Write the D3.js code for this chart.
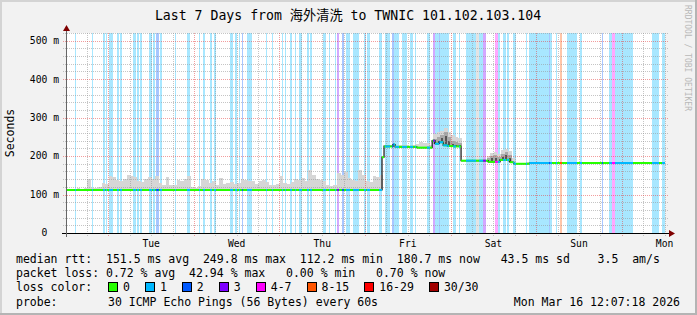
<!DOCTYPE html>
<html>
<head>
<meta charset="utf-8">
<script src="https://cdn.jsdelivr.net/npm/d3@7"></script>
<style>
body{margin:0;background:#f2f2f2}
svg{display:block}
text{font-family:"DejaVu Sans Mono","Noto Sans CJK SC",monospace;fill:#000;white-space:pre}
</style>
</head>
<body>
<div id="chart"></div>
<script>
// window of the graph (UTC)
var tStart = Date.UTC(2026,2,9,12,7,18),
    tEnd   = Date.UTC(2026,2,16,12,7,18),
    HR = 3600000;

// median rtt, piecewise: [from hour, to hour, ms]
var medianSeg = [
  [0,88.63,112],[88.63,89.2,197],[89.2,91.7,225],[91.7,92.3,230],[92.3,98.4,224],
  [98.4,102.7,222],[102.7,103.5,240],[103.5,104.6,232],[104.6,105.8,236],[105.8,107,228],
  [107,108.6,226],[108.6,110.8,225],[110.8,118.4,188],[118.4,121.7,185],[121.7,124.5,190],
  [124.5,125.6,184],[125.6,130,180],[130,168,182]
];

// loss background bands: [from hour, to hour, loss class] (9 = unknown)
var lossBands = [
  [2.52,2.80,1],[7.29,7.57,1],[10.38,10.94,1],[11.22,11.50,1],[12.06,13.18,1],[14.30,14.86,1],
  [15.15,15.71,1],[18.79,19.63,1],[19.91,20.47,1],[20.75,21.32,1],[23.28,24.12,1],[24.40,24.96,1],
  [25.24,26.08,2],[26.36,26.93,1],[30.57,30.85,1],[33.94,34.78,1],[37.30,37.58,1],[38.42,38.99,1],
  [40.39,40.95,1],[41.51,42.07,1],[45.99,46.84,1],[47.40,47.96,1],[48.52,48.80,1],[49.36,49.64,2],
  [50.77,52.17,1],[56.09,56.37,1],[57.77,58.05,1],[60.58,60.86,1],[61.42,61.70,1],[62.83,63.39,1],
  [64.23,64.51,1],[65.35,66.19,1],[67.59,68.15,1],[68.43,69.00,1],[72.08,72.92,1],[73.76,74.04,1],
  [75.45,75.73,1],[76.01,76.57,3],[77.41,77.97,2],[78.53,79.65,1],[80.49,82.18,1],[83.58,84.14,1],
  [84.42,85.26,1],[87.79,88.63,1],[89.47,90.87,1],[91.43,91.99,2],[91.99,93.40,1],[94.24,95.64,1],
  [96.48,97.32,1],[97.88,98.16,1],[101.25,102.09,1],[102.93,103.49,3],[103.49,104.62,1],[104.62,104.90,2],
  [104.90,107.42,1],[108.54,109.38,1],[110.22,110.51,1],[112.19,115.00,1],[115.00,115.84,9],[115.84,116.96,1],
  [116.96,117.80,3],[120.32,121.16,4],[121.16,121.72,1],[122.57,123.41,1],[123.69,124.25,1],[125.37,126.21,1],
  [129.02,129.30,1],[129.86,135.47,1],[135.47,135.75,2],[135.75,136.31,1],[137.43,137.71,1],[138.55,139.11,5],
  [140.52,143.32,1],[144.16,144.72,1],[150.33,150.61,2],[152.29,153.13,1],[153.13,153.97,4],[153.97,159.02,1],
  [164.35,166.31,1],[167.15,168,1]
];

// outer edge of the smoke, one value per hour (ms)
var smokeTop = [
  114,115,114,116,115,118,140,118,117,120,
  130,128,147,145,138,135,140,151,149,145,
  134,132,140,146,141,147,130,125,145,126,
  124,138,134,140,147,120,118,122,140,138,
  130,135,125,143,128,130,132,128,130,140,
  138,136,134,128,136,138,133,125,124,127,
  147,130,128,132,140,138,142,136,164,150,
  140,138,136,125,122,126,155,150,158,142,
  138,136,164,150,134,132,148,145,150,
  228,230,229,227,230,228,229,227,230,232,236,235,234,230,
  258,262,266,272,262,255,250,246,
  191,191,190,191,192,190,191,
  200,208,210,206,216,218,214,196,
  183,182,183,184,184,184,183,184,184,185,184,184,184,184,185,184,184,184,184,184,184,
  184,184,185,184,184,184,184,184,184,184,184,184,184,184,184,184,184,184,184,184,184
];

// denser smoke in the noisy hours: [hour, mid ms, core ms]
var smokeDark = [
  [103,245,236],[104,250,240],[105,255,246],[106,262,252],[107,250,240],[108,240,232],
  [109,236,230],[110,234,228],[118,194,null],[119,200,194],[120,202,196],[121,198,null],
  [122,206,198],[123,210,202],[124,204,196]
];

var yTicks = [0,100,200,300,400,500];
var dayLabels = ["Tue","Wed","Thu","Fri","Sat","Sun","Mon"];

var lossColors = ["#26ff00","#00b8ff","#0059ff","#7e00ff","#ff00ff","#ff5500","#ff0000","#a10000"];
var lossNames  = ["0","1","2","3","4-7","8-15","16-29","30/30"];

var statRtt  = "median rtt:  151.5 ms avg  249.8 ms max  112.2 ms min  180.7 ms now   43.5 ms sd    3.5  am/s";
var statLoss = "packet loss: 0.72 % avg  42.94 % max   0.00 % min   0.70 % now";
var probeTxt = "30 ICMP Echo Pings (56 Bytes) every 60s";
var stampTxt = "Mon Mar 16 12:07:18 2026";

var W = 697, H = 315,
    x0 = 66, x1 = 665, yTop = 33, yBot = 233;

var svg = d3.select("#chart").append("svg").attr("width",W).attr("height",H);

svg.append("rect").attr("width",W).attr("height",H).attr("fill","#f2f2f2");
// shaded frame
svg.append("rect").attr("x",0).attr("y",0).attr("width",W).attr("height",2).attr("fill","#d4d4d4");
svg.append("rect").attr("x",0).attr("y",0).attr("width",2).attr("height",H).attr("fill","#d4d4d4");
svg.append("rect").attr("x",W-2).attr("y",0).attr("width",2).attr("height",H).attr("fill","#b4b4b4");
svg.append("rect").attr("x",0).attr("y",H-2).attr("width",W).attr("height",2).attr("fill","#b4b4b4");

var x = d3.scaleUtc().domain([tStart,tEnd]).range([x0,x1]);
var y = d3.scaleLinear().domain([0,520]).range([yBot,yTop]);
function hx(h){ return x(new Date(tStart + h*HR)); }
function medAt(h){
  for (var i=0;i<medianSeg.length;i++) if (h>=medianSeg[i][0] && h<medianSeg[i][1]) return medianSeg[i][2];
  return medianSeg[medianSeg.length-1][2];
}

var plot = svg.append("g");
plot.append("rect").attr("x",x0).attr("y",yTop).attr("width",x1-x0).attr("height",yBot-yTop).attr("fill","#fff");

// loss bands
plot.append("g").attr("shape-rendering","crispEdges").selectAll("rect")
  .data(lossBands).enter().append("rect")
  .attr("x",function(d){return hx(d[0]);})
  .attr("width",function(d){return hx(d[1])-hx(d[0]);})
  .attr("y",yTop).attr("height",yBot-yTop)
  .attr("fill",function(d){return d[2]==9 ? "#c8c8c8" : lossColors[d[2]];})
  .attr("fill-opacity",function(d){return d[2]==9 ? 0.5 : 0.34;});

// smoke
var smoke = plot.append("g").attr("shape-rendering","crispEdges");
smoke.selectAll("rect.outer").data(smokeTop).enter().append("rect").attr("class","outer")
  .attr("x",function(d,i){return hx(i);})
  .attr("width",function(d,i){return hx(i+1)-hx(i);})
  .attr("y",function(d){return y(d);})
  .attr("height",function(d,i){return Math.max(0,y(medAt(i+0.5))-y(d));})
  .attr("fill","#d6d6d6");
smoke.selectAll("rect.mid").data(smokeDark).enter().append("rect").attr("class","mid")
  .attr("x",function(d){return hx(d[0]);})
  .attr("width",function(d){return hx(d[0]+1)-hx(d[0]);})
  .attr("y",function(d){return y(d[1]);})
  .attr("height",function(d){return Math.max(0,y(medAt(d[0]+0.5))-y(d[1]));})
  .attr("fill","#a8a8a8");
smoke.selectAll("rect.core").data(smokeDark.filter(function(d){return d[2]!=null;})).enter().append("rect").attr("class","core")
  .attr("x",function(d){return hx(d[0]+0.2);})
  .attr("width",function(d){return hx(d[0]+0.8)-hx(d[0]+0.2);})
  .attr("y",function(d){return y(d[2]);})
  .attr("height",function(d){return Math.max(0,y(medAt(d[0]+0.5))-y(d[2]));})
  .attr("fill","#555");

// grid
var grid = svg.append("g").attr("stroke-dasharray","1,1").attr("shape-rendering","crispEdges");
var minorY = d3.range(20,521,20).filter(function(v){return v%100!=0;});
grid.selectAll("line.hy").data(minorY).enter().append("line")
  .attr("x1",x0-3).attr("x2",x1+3)
  .attr("y1",function(d){return Math.round(y(d))+0.5;}).attr("y2",function(d){return Math.round(y(d))+0.5;})
  .attr("stroke","rgba(150,150,150,0.55)");
var minorX = d3.utcHour.every(6).range(new Date(tStart),new Date(tEnd)).filter(function(d){return d.getUTCHours()!=0;});
grid.selectAll("line.vx").data(minorX).enter().append("line")
  .attr("x1",function(d){return Math.round(x(d))+0.5;}).attr("x2",function(d){return Math.round(x(d))+0.5;})
  .attr("y1",yTop).attr("y2",yBot+3)
  .attr("stroke","rgba(150,150,150,0.55)");
grid.selectAll("line.my").data(yTicks.slice(1)).enter().append("line")
  .attr("x1",x0-3).attr("x2",x1+3)
  .attr("y1",function(d){return Math.round(y(d))+0.5;}).attr("y2",function(d){return Math.round(y(d))+0.5;})
  .attr("stroke","rgba(230,60,60,0.5)");
var majorX = d3.utcDay.range(new Date(tStart),new Date(tEnd));
grid.selectAll("line.mx").data(majorX).enter().append("line")
  .attr("x1",function(d){return Math.round(x(d))+0.5;}).attr("x2",function(d){return Math.round(x(d))+0.5;})
  .attr("y1",yTop).attr("y2",yBot+3)
  .attr("stroke","rgba(230,60,60,0.5)");

// median line: dark steps, then loss-coloured level pieces
var stepPts = medianSeg.map(function(s){return [s[0],s[2]];});
stepPts.push([168, medianSeg[medianSeg.length-1][2]]);
svg.append("path").datum(stepPts)
  .attr("d",d3.line().x(function(d){return hx(d[0]);}).y(function(d){return y(d[1]);}).curve(d3.curveStepAfter))
  .attr("fill","none").attr("stroke","#111").attr("stroke-width",1.2);

var pieces = [];
medianSeg.forEach(function(s){ pieces.push({a:s[0],b:s[1],v:s[2],c:lossColors[0]}); });
lossBands.forEach(function(b){
  if (b[2]==9) return;
  medianSeg.forEach(function(s){
    var a=Math.max(b[0],s[0]), e=Math.min(b[1],s[1]);
    if (e>a) pieces.push({a:a,b:e,v:s[2],c:lossColors[b[2]]});
  });
});
svg.append("g").selectAll("line").data(pieces).enter().append("line")
  .attr("x1",function(d){return hx(d.a);}).attr("x2",function(d){return hx(d.b);})
  .attr("y1",function(d){return y(d.v);}).attr("y2",function(d){return y(d.v);})
  .attr("stroke",function(d){return d.c;}).attr("stroke-width",2);

// axes
svg.append("line").attr("x1",x0-4).attr("x2",x1+5).attr("y1",yBot+0.5).attr("y2",yBot+0.5)
  .attr("stroke","#000").attr("shape-rendering","crispEdges");
svg.append("line").attr("x1",x0+0.5).attr("x2",x0+0.5).attr("y1",yBot+4).attr("y2",yTop-5)
  .attr("stroke","#666").attr("shape-rendering","crispEdges");
svg.append("path").attr("d","M"+(x1+4)+","+(yBot-3)+"L"+(x1+10)+","+(yBot+0.5)+"L"+(x1+4)+","+(yBot+4)+"Z").attr("fill","#7f0000");
svg.append("path").attr("d","M"+(x0-3)+","+(yTop-2)+"L"+(x0+0.5)+","+(yTop-8)+"L"+(x0+4)+","+(yTop-2)+"Z").attr("fill","#7f0000");

// y labels
svg.append("g").selectAll("text").data(yTicks).enter().append("text")
  .attr("x",59).attr("y",function(d){return y(d);}).attr("dy","0.35em")
  .attr("text-anchor","end").attr("font-size","9.7px")
  .text(function(d){return d==0 ? "0  " : d+" m";});

// x labels at noon of each day
var noonTicks = d3.utcDay.range(new Date(tStart),new Date(tEnd+HR)).map(function(d){return new Date(+d+12*HR);});
svg.append("g").selectAll("text").data(noonTicks).enter().append("text")
  .attr("x",function(d){return x(d);}).attr("y",246.5)
  .attr("text-anchor","middle").attr("font-size","9.7px")
  .text(function(d,i){return dayLabels[i];});

svg.append("text").attr("transform","translate(14,133) rotate(-90)")
  .attr("text-anchor","middle").attr("font-size","11.5px").text("Seconds");

svg.append("text").attr("x",348).attr("y",20).attr("text-anchor","middle")
  .attr("font-size","13.2px").text("Last 7 Days from 海外清洗 to TWNIC 101.102.103.104");

svg.append("text").attr("transform","translate(685,5) rotate(90)")
  .attr("font-size","8px").style("fill","#b8b8b8").text("RRDTOOL / TOBI OETIKER");

// legend
var lg = svg.append("g").attr("font-size","11.5px");
lg.append("text").attr("x",16).attr("y",263).text(statRtt);
lg.append("text").attr("x",16).attr("y",277).text(statLoss);
lg.append("text").attr("x",16).attr("y",291).text("loss color:");
var cw = 6.93, bx = 108;
lossNames.forEach(function(n,i){
  lg.append("rect").attr("x",bx+0.5).attr("y",282.5).attr("width",9).attr("height",9)
    .attr("fill",lossColors[i]).attr("stroke","#000").attr("shape-rendering","crispEdges");
  lg.append("text").attr("x",bx+15).attr("y",291).text(n);
  bx += 15 + n.length*cw + 15;
});
lg.append("text").attr("x",16).attr("y",306).text("probe:");
lg.append("text").attr("x",108).attr("y",306).text(probeTxt);
lg.append("text").attr("x",680).attr("y",306).attr("text-anchor","end").text(stampTxt);
</script>
</body>
</html>
